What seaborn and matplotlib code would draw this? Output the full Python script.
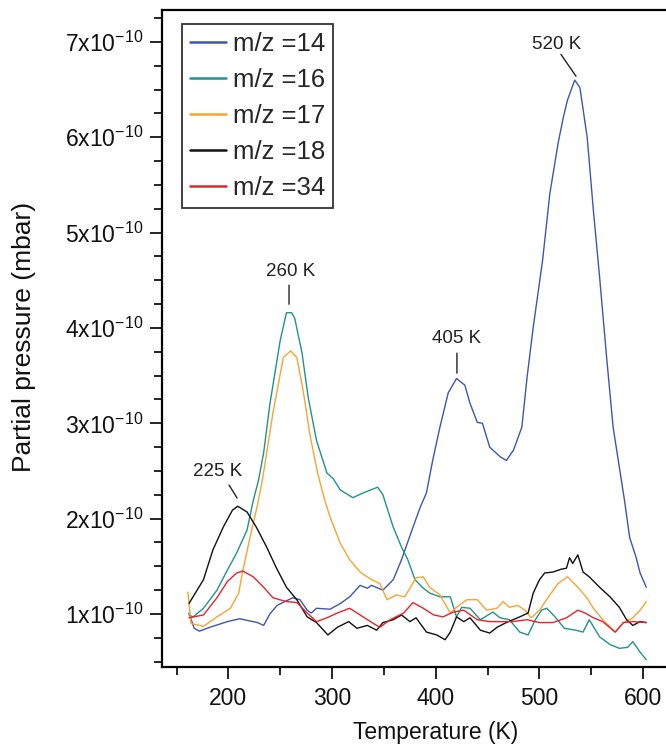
import numpy as np
import pandas as pd
import matplotlib
matplotlib.use("Agg")
import matplotlib.pyplot as plt
import seaborn as sns
from matplotlib.ticker import FixedLocator, FuncFormatter

# ---------------- data (pressure in units of 1e-10 mbar) ----------------
T14 = [162, 167, 172, 182, 199, 211, 228, 234, 240, 247, 262, 269, 276, 280, 285,
       298, 308, 317, 327, 334, 338, 349, 359, 367, 378, 385, 391, 397, 404, 412,
       420, 428, 433, 440, 445, 452, 462, 468, 475, 483, 488, 494, 503, 510, 518,
       523, 527, 534, 539, 546, 552, 558, 565, 571, 577, 582, 587, 593, 597, 603]
P14 = [1.01, 0.85, 0.82, 0.86, 0.92, 0.95, 0.91, 0.88, 1.00, 1.09, 1.17, 1.15, 1.04, 1.01, 1.06,
       1.05, 1.11, 1.18, 1.30, 1.27, 1.30, 1.25, 1.36, 1.57, 1.91, 2.12, 2.27, 2.61, 2.96, 3.32,
       3.47, 3.40, 3.21, 3.01, 3.00, 2.75, 2.65, 2.61, 2.72, 2.96, 3.48, 4.01, 4.71, 5.41, 5.94,
       6.21, 6.39, 6.60, 6.52, 6.00, 5.23, 4.53, 3.66, 2.96, 2.54, 2.19, 1.80, 1.60, 1.43, 1.28]

T16 = [162, 166, 176, 189, 199, 208, 218, 224, 229, 234, 240, 250, 256, 261, 264,
       271, 277, 285, 295, 301, 308, 320, 330, 344, 349, 359, 367, 373, 380, 387,
       394, 404, 414, 420, 425, 433, 443, 455, 462, 471, 481, 489, 496, 502, 507,
       515, 524, 535, 542, 548, 558, 568, 577, 585, 590, 597, 603]
P16 = [0.99, 0.97, 1.06, 1.25, 1.46, 1.64, 1.88, 2.19, 2.40, 2.69, 3.20, 3.87, 4.16, 4.16, 4.10,
       3.74, 3.27, 2.82, 2.48, 2.42, 2.30, 2.22, 2.27, 2.33, 2.25, 1.91, 1.70, 1.57, 1.36, 1.28,
       1.22, 1.18, 1.18, 0.97, 1.07, 1.06, 0.94, 1.02, 0.96, 0.94, 0.81, 0.78, 0.94, 1.04, 1.06,
       0.97, 0.85, 0.83, 0.81, 0.94, 0.76, 0.68, 0.64, 0.65, 0.71, 0.60, 0.52]

T17 = [161, 164, 176, 189, 202, 210, 214, 221, 228, 233, 243, 253, 260, 266, 272,
       279, 286, 293, 298, 308, 317, 327, 338, 346, 353, 362, 370, 381, 388, 394,
       404, 414, 420, 430, 440, 449, 459, 465, 471, 479, 486, 492, 500, 510, 518,
       527, 537, 545, 552, 561, 573, 581, 590, 597, 603]
P17 = [1.23, 0.90, 0.87, 0.97, 1.06, 1.22, 1.46, 1.81, 2.14, 2.42, 3.11, 3.69, 3.76, 3.69, 3.35,
       2.86, 2.48, 2.19, 2.02, 1.74, 1.57, 1.44, 1.36, 1.32, 1.15, 1.20, 1.18, 1.38, 1.39, 1.28,
       1.20, 1.01, 1.07, 1.15, 1.15, 1.04, 1.06, 1.13, 1.07, 1.09, 1.04, 0.96, 1.04, 1.20, 1.32,
       1.39, 1.28, 1.18, 1.06, 0.94, 0.81, 0.91, 0.96, 1.04, 1.13]

T18 = [162, 176, 185, 195, 204, 209, 218, 227, 237, 246, 256, 266, 276, 285, 296,
       305, 316, 324, 334, 343, 349, 359, 367, 375, 381, 391, 401, 409, 414, 420,
       427, 433, 443, 452, 459, 468, 481, 489, 494, 500, 505, 513, 521, 526, 529,
       532, 537, 542, 548, 558, 568, 577, 584, 590, 597, 603]
P18 = [1.11, 1.36, 1.67, 1.91, 2.09, 2.13, 2.07, 1.91, 1.70, 1.49, 1.28, 1.15, 0.97, 0.91, 0.78,
       0.86, 0.92, 0.85, 0.88, 0.83, 0.91, 0.94, 0.99, 0.92, 0.96, 0.81, 0.78, 0.73, 0.81, 0.97,
       0.92, 0.96, 0.83, 0.80, 0.86, 0.91, 0.97, 1.01, 1.22, 1.36, 1.43, 1.44, 1.47, 1.48, 1.59,
       1.53, 1.62, 1.44, 1.39, 1.28, 1.18, 1.07, 0.94, 0.88, 0.92, 0.91]

T34 = [162, 176, 189, 199, 208, 214, 224, 234, 243, 256, 266, 276, 285, 295, 305,
       317, 327, 337, 346, 356, 369, 378, 388, 398, 407, 417, 427, 440, 452, 465,
       474, 488, 500, 513, 526, 537, 544, 552, 561, 573, 581, 590, 603]
P34 = [0.96, 0.99, 1.17, 1.34, 1.43, 1.45, 1.39, 1.28, 1.17, 1.13, 1.12, 1.01, 0.92, 0.96, 1.01,
       1.06, 0.99, 0.92, 0.86, 0.94, 1.01, 1.12, 1.06, 0.99, 0.97, 1.02, 1.04, 0.94, 0.92, 0.92,
       0.92, 0.94, 0.91, 0.91, 0.96, 1.04, 1.01, 0.96, 0.92, 0.81, 0.91, 0.92, 0.91]

labels = ["m/z =14", "m/z =16", "m/z =17", "m/z =18", "m/z =34"]
colors = ["#3e56b0", "#1f938c", "#f9a332", "#111111", "#e8232b"]

x_ticks = [200, 300, 400, 500, 600]
y_ticks = [1, 2, 3, 4, 5, 6, 7]

peak_labels = ["520 K", "260 K", "405 K", "225 K"]
peak_text_xy = [(516.8, 6.975), (260.5, 4.595), (420.4, 3.893), (190.1, 2.499)]
peak_line = [((520.7, 6.87), (535.2, 6.64)),
             ((258.5, 4.449), (258.5, 4.249)),
             ((420.4, 3.736), (420.4, 3.526)),
             ((200.7, 2.352), (208.4, 2.216))]

# ---------------- build table ----------------
SCALE = 1e-10
frames = []
for lab, t, p in zip(labels, [T14, T16, T17, T18, T34], [P14, P16, P17, P18, P34]):
    frames.append(pd.DataFrame({"T": t, "P": np.array(p) * SCALE, "species": lab}))
df = pd.concat(frames, ignore_index=True)

# ---------------- style ----------------
sns.set_theme(style="white")
plt.rcParams["font.family"] = ["Liberation Sans", "DejaVu Sans"]
plt.rcParams["mathtext.fontset"] = "custom"
plt.rcParams["mathtext.rm"] = "Liberation Sans"
plt.rcParams["mathtext.default"] = "regular"

W, H = 666, 748
fig = plt.figure(figsize=(W / 100, H / 100), dpi=100)
ax = fig.add_axes([162 / W, 1 - 667 / H, 504 / W, 657 / H])

sns.lineplot(data=df, x="T", y="P", hue="species", hue_order=labels,
             palette=dict(zip(labels, colors)), estimator=None, sort=False,
             lw=1.0, ax=ax)

ax.set_xlim(136, 622)
ax.set_ylim(0.444 * SCALE, 7.335 * SCALE)

for s in ["left", "bottom", "top"]:
    ax.spines[s].set_color("black")
    ax.spines[s].set_linewidth(1.6)
ax.spines["right"].set_visible(False)

ax.xaxis.set_major_locator(FixedLocator(x_ticks))
ax.xaxis.set_minor_locator(FixedLocator([150, 250, 350, 450, 550]))
ax.yaxis.set_major_locator(FixedLocator([v * SCALE for v in y_ticks]))
ax.yaxis.set_minor_locator(FixedLocator([(0.5 + 0.25 * i) * SCALE for i in range(28)
                                         if (0.5 + 0.25 * i) % 1 != 0]))
ax.yaxis.set_major_formatter(FuncFormatter(lambda v, pos: f"{int(round(v / SCALE))}x10$^{{-10}}$"))

ax.tick_params(axis="both", which="both", direction="out", color="black",
               bottom=True, left=True, top=False, right=False)
ax.tick_params(axis="both", which="major", length=8.5, width=1.2, labelsize=16.5,
               labelcolor="#111111")
ax.tick_params(axis="both", which="minor", length=6, width=1.2)
ax.tick_params(axis="x", which="major", pad=6)
ax.tick_params(axis="y", which="major", pad=5)

ax.set_xlabel("Temperature (K)", fontsize=16.5, color="#111111")
ax.set_ylabel("Partial pressure (mbar)", fontsize=19, color="#111111")
ax.xaxis.set_label_coords((435.5 - 162) / 504, (667 - 721) / 657)
ax.yaxis.set_label_coords((36 - 162) / 504, 0.503)

handles, labs = ax.get_legend_handles_labels()
leg = ax.legend(handles, labs, loc="upper left",
                bbox_to_anchor=((182 - 162) / 504, (667 - 24) / 657),
                borderaxespad=0, frameon=True, fancybox=False, edgecolor="black",
                fontsize=18.5, handlelength=1.4, handletextpad=0.3,
                labelspacing=0.47, borderpad=0.3)
leg.get_frame().set_linewidth(1.3)
for line in leg.get_lines():
    line.set_linewidth(1.8)

for lab, (tx, ty), (a, b) in zip(peak_labels, peak_text_xy, peak_line):
    ax.text(tx, ty * SCALE, lab, ha="center", va="center", fontsize=13.5, color="#222222")
    ax.annotate("", xy=(b[0], b[1] * SCALE), xytext=(a[0], a[1] * SCALE),
                arrowprops=dict(arrowstyle="-", lw=1.0, color="#222222",
                                shrinkA=0, shrinkB=0))

fig.savefig("out.png", dpi=100)
